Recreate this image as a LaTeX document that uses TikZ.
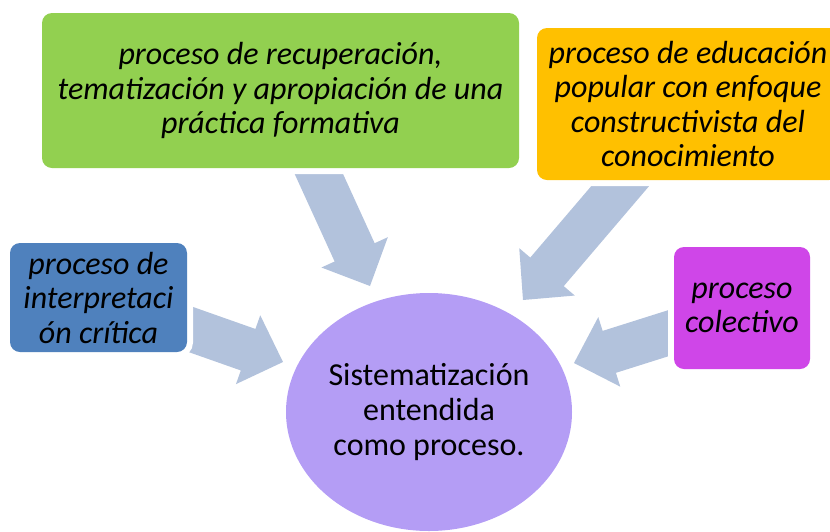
\documentclass[tikz,border=0pt]{standalone}
\usepackage{fontspec}
\setmainfont{Carlito}
\usetikzlibrary{calc,shapes.geometric}
\definecolor{cgreen}{RGB}{146,208,80}
\definecolor{corange}{RGB}{255,192,0}
\definecolor{cblue}{RGB}{79,129,189}
\definecolor{cmag}{RGB}{207,70,232}
\definecolor{cell}{RGB}{180,157,245}
\definecolor{carrow}{RGB}{178,194,220}
\pgfdeclarelayer{bg}
\pgfsetlayers{bg,main}
\tikzset{
  box/.style={rectangle, rounded corners=10pt, inner sep=0pt, align=center,
    font=\itshape\fontsize{32}{34.5}\selectfont,
    preaction={draw=white, line width=12pt}},
  ellbox/.style={ellipse, inner sep=0pt, align=center, fill=cell,
    font=\fontsize{32}{35}\selectfont},
  arrowfill/.style={fill=carrow}
}
\newcommand\blockarrow[2]{%
  \coordinate (#1-#2-h) at ($(#2)!37pt!(#1)$);
  \fill[arrowfill] ($(#1)!22pt!90:(#2)$) -- ($(#1-#2-h)!22pt!90:(#2)$)
    -- ($(#1-#2-h)!36.5pt!90:(#2)$) -- (#2)
    -- ($(#1-#2-h)!36.5pt!-90:(#2)$) -- ($(#1-#2-h)!22pt!-90:(#2)$)
    -- ($(#1)!22pt!-90:(#2)$) -- cycle;
}
\begin{document}
\begin{tikzpicture}[x=1pt,y=-1pt]
\useasboundingbox (0,0) rectangle (830,531);
\clip (0,0) rectangle (830,531);
\node[box, fill=cgreen, minimum width=477pt, minimum height=155pt] (green) at (280.5,90.5)
  {proceso de recuperación,\\tematización y apropiación de una\\práctica formativa};
\node[box, fill=corange, minimum width=302pt, minimum height=152pt] (orange) at (688,104)
  {proceso de educación\\popular con enfoque\\constructivista del\\conocimiento};
\node[box, fill=cblue, minimum width=177pt, minimum height=109pt] (blue) at (98.5,297.5)
  {proceso de\\interpretaci\\ón crítica};
\node[box, fill=cmag, minimum width=136pt, minimum height=122pt] (mag) at (742,308)
  {proceso\\colectivo};
\node[ellbox, minimum width=286pt, minimum height=238pt] (ell) at (429,412)
  {Sistematización\\entendida\\como proceso.};
\coordinate (t1) at ($(green.south)+(27.5,-18)$);
\coordinate (h1) at (370,286);
\coordinate (t2) at ($(orange.south)+(-50,-15)$);
\coordinate (h2) at (523,300);
\coordinate (t3) at ($(blue.east)+(-12,26.5)$);
\coordinate (h3) at (283,362);
\coordinate (t4) at ($(mag.west)+(11,20)$);
\coordinate (h4) at (574,363);
\begin{pgfonlayer}{bg}
\blockarrow{t1}{h1}
\blockarrow{t2}{h2}
\blockarrow{t3}{h3}
\blockarrow{t4}{h4}
\end{pgfonlayer}
\end{tikzpicture}
\end{document}
